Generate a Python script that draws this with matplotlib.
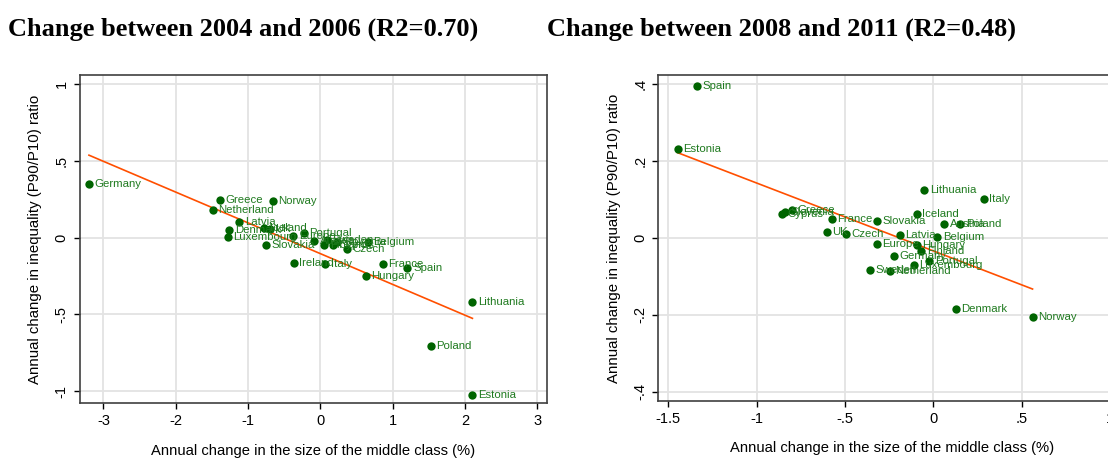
import numpy as np
import matplotlib.pyplot as plt

plt.rcParams['font.family'] = ['Liberation Sans', 'DejaVu Sans']

# Change between 2004 and 2006
countries_a = ["Germany", "Greece", "Norway", "Netherland", "Latvia", "Iceland", "UK",
               "Denmark", "Luxembourg", "Slovakia", "Europe", "Portugal", "Austria",
               "Finland", "Sweden", "Cyprus", "Slovenia", "Czech", "Belgium", "Ireland",
               "Italy", "France", "Spain", "Hungary", "Lithuania", "Poland", "Estonia"]
x_a = [-3.20, -1.39, -0.655, -1.49, -1.12, -0.78, -0.70, -1.26, -1.28, -0.75, -0.375,
       -0.227, -0.084, 0.054, 0.087, 0.17, 0.225, 0.364, 0.654, -0.367, 0.07, 0.863,
       1.205, 0.63, 2.103, 1.528, 2.103]
y_a = [0.347, 0.245, 0.241, 0.180, 0.10, 0.063, 0.054, 0.05, 0.002, -0.05, 0.013,
       0.03, -0.022, -0.05, -0.018, -0.05, -0.03, -0.072, -0.031, -0.165, -0.174,
       -0.174, -0.20, -0.248, -0.417, -0.704, -1.023]

# Change between 2008 and 2011
countries_b = ["Spain", "Estonia", "Lithuania", "Italy", "Greece", "Slovenia", "Cyprus",
               "France", "Slovakia", "Iceland", "Austria", "Poland", "UK", "Czech", "Latvia",
               "Belgium", "Europe", "Hungary", "Finland", "Germany", "Portugal",
               "Luxembourg", "Sweden", "Netherland", "Denmark", "Norway"]
x_b = [-1.337, -1.448, -0.052, 0.286, -0.802, -0.842, -0.858, -0.576, -0.318, -0.095,
       0.062, 0.153, -0.604, -0.495, -0.191, 0.022, -0.320, -0.095, -0.068, -0.222,
       -0.022, -0.111, -0.357, -0.246, 0.127, 0.562]
y_b = [0.394, 0.231, 0.125, 0.101, 0.072, 0.067, 0.061, 0.050, 0.044, 0.061, 0.035,
       0.035, 0.014, 0.011, 0.007, 0.002, -0.017, -0.020, -0.035, -0.047, -0.061,
       -0.071, -0.083, -0.087, -0.185, -0.206]

titles = ["Change between 2004 and 2006 (R2=0.70)", "Change between 2008 and 2011 (R2=0.48)"]
xticks_a = [-3, -2, -1, 0, 1, 2, 3]
xtlab_a = ["-3", "-2", "-1", "0", "1", "2", "3"]
yticks_a = [-1, -0.5, 0, 0.5, 1]
ytlab_a = ["-1", "-.5", "0", ".5", "1"]
xticks_b = [-1.5, -1, -0.5, 0, 0.5, 1]
xtlab_b = ["-1.5", "-1", "-.5", "0", ".5", "1"]
yticks_b = [-0.4, -0.2, 0, 0.2, 0.4]
ytlab_b = ["-.4", "-.2", "0", ".2", ".4"]

xlabel = "Annual change in the size of the middle class (%)"
ylabel = "Annual change in inequality (P90/P10) ratio"

green = "#006400"
lab_col = "#1f7a1f"
line_col = "#ff4f00"

fig = plt.figure(figsize=(11.08, 4.58), dpi=100)
ax1 = fig.add_axes([0.0718, 0.1194, 0.4216, 0.7168])
ax2 = fig.add_axes([0.5943, 0.1245, 0.4216, 0.7118])

panels = [
    (ax1, countries_a, x_a, y_a, xticks_a, xtlab_a, yticks_a, ytlab_a, (-3.33, 3.13), (-1.08, 1.059)),
    (ax2, countries_b, x_b, y_b, xticks_b, xtlab_b, yticks_b, ytlab_b, (-1.556, 1.089), (-0.424, 0.423)),
]

for ax, names, xs, ys, xt, xtl, yt, ytl, xl, yl in panels:
    xs = np.array(xs)
    ys = np.array(ys)
    ax.set_xlim(*xl)
    ax.set_ylim(*yl)
    ax.set_xticks(xt)
    ax.set_xticklabels(xtl)
    ax.set_yticks(yt)
    ax.set_yticklabels(ytl, rotation=90, va="center")
    ax.grid(True, color="#e3e3e3", linewidth=1.3)
    ax.set_axisbelow(True)
    for s in ax.spines.values():
        s.set_color("#404040")
        s.set_linewidth(1.2)
    ax.tick_params(direction="out", length=4, width=1, colors="black", labelsize=10.5, pad=4)

    # linear fit
    b, a = np.polyfit(xs, ys, 1)
    xx = np.array([xs.min(), xs.max()])
    ax.plot(xx, a + b * xx, color=line_col, linewidth=1.2, zorder=2)

    ax.scatter(xs, ys, s=36, color=green, zorder=3, linewidths=0)
    for n, x, y in zip(names, xs, ys):
        ax.annotate(n, (x, y), xytext=(4, 0), textcoords="offset points",
                    va="center", ha="left", fontsize=8.2, color=lab_col, zorder=4)

    ax.set_xlabel(xlabel, fontsize=10.6, labelpad=11)
    ax.set_ylabel(ylabel, fontsize=10.8, labelpad=9)

fig.text(0.007, 0.923, titles[0], fontsize=19, fontweight="bold",
         family="Liberation Serif", va="baseline")
fig.text(0.494, 0.923, titles[1], fontsize=19, fontweight="bold",
         family="Liberation Serif", va="baseline")

fig.savefig("out.png", dpi=100)
